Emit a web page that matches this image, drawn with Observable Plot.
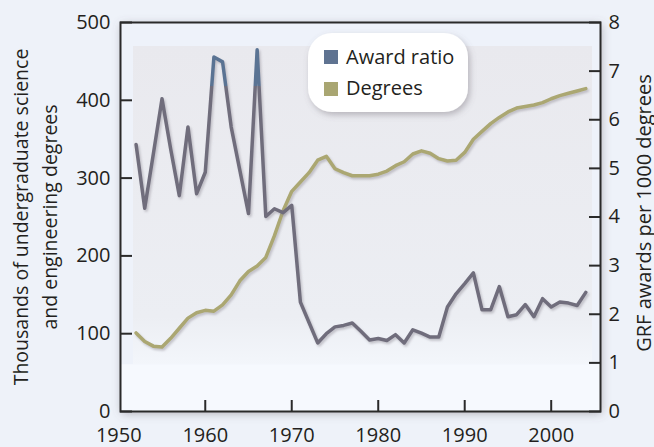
<!DOCTYPE html>
<html><head><meta charset="utf-8">
<script src="https://cdn.jsdelivr.net/npm/d3@7"></script>
<script src="https://cdn.jsdelivr.net/npm/@observablehq/plot@0.6"></script>
<style>
html,body{margin:0;padding:0;background:#eef2f9;}
#chart{width:654px;height:447px;overflow:hidden;}
</style></head><body><div id="chart"></div>
<script>
const years = [1952,1953,1954,1955,1956,1957,1958,1959,1960,1961,1962,1963,1964,1965,1966,1967,1968,1969,1970,
  1971,1972,1973,1974,1975,1976,1977,1978,1979,1980,1981,1982,1983,1984,1985,1986,1987,1988,1989,1990,
  1991,1992,1993,1994,1995,1996,1997,1998,1999,2000,2001,2002,2003,2004];
const degrees = [101,90,84,83,94,107,120,127,130,129,137,150,168,180,187,198,226,258,283,
  295,307,323,328,312,307,303,303,303,305,309,316,321,331,335,332,325,322,323,333,
  350,360,370,378,385,390,392,394,397,402,406,409,412,415];
const awardRatio = [5.49,4.18,5.3,6.43,5.4,4.44,5.85,4.48,4.92,7.29,7.19,5.85,4.96,4.07,7.44,4.01,4.17,4.09,4.24,
  2.25,1.83,1.41,1.6,1.74,1.77,1.82,1.65,1.47,1.50,1.46,1.58,1.41,1.68,1.61,1.53,1.53,2.15,2.42,2.63,
  2.85,2.09,2.09,2.57,1.95,1.99,2.20,1.95,2.32,2.15,2.25,2.23,2.18,2.45];
const seriesNames = ["Award ratio", "Degrees"];
const swatchColors = ["#5f7391", "#a9a672"];
const lineColors = ["#6f6d7c", "#aba772"];
const xTicks = [1950, 1960, 1970, 1980, 1990, 2000];
const leftTicks = [0, 100, 200, 300, 400, 500];
const rightTicks = [0, 1, 2, 3, 4, 5, 6, 7, 8];
const leftTitle = "Thousands of undergraduate science\nand engineering degrees";
const rightTitle = "GRF awards per 1000 degrees";

const K = 500 / 8;
const rows = years.map((y, i) => ({year: y, degrees: degrees[i], ratio: awardRatio[i]}));
const font = "'Open Sans', 'Noto Sans', sans-serif";

const plot = Plot.plot({
  width: 654, height: 447,
  marginLeft: 120, marginRight: 54, marginTop: 22, marginBottom: 36,
  style: {background: "transparent", fontFamily: font, color: "#231f20", overflow: "visible"},
  x: {domain: [1950.2, 2005.7]},
  y: {domain: [0, 500]},
  marks: [
    Plot.frame({fill: "#eef2fa", className: "bgframe"}),
    Plot.line(rows, {x: "year", y: "degrees", stroke: lineColors[1], strokeWidth: 3.5, className: "degline"}),
    Plot.line(rows, {x: "year", y: d => d.ratio * K, stroke: lineColors[0], strokeWidth: 3.5, className: "ratioline"}),
    Plot.frame({stroke: "#2a2a2a", strokeWidth: 2}),
    Plot.axisX({ticks: xTicks.filter(t => t > 1950), tickSize: -11, fill: "none", label: null, stroke: "#2a2a2a", strokeWidth: 2}),
    Plot.axisX({ticks: xTicks, tickFormat: d => String(d), tickSize: 0, tickPadding: 16, fontSize: 20, label: null}),
    Plot.axisY({ticks: leftTicks, tickSize: -12, fill: "none", label: null, anchor: "left", stroke: "#2a2a2a", strokeWidth: 2}),
    Plot.axisY({ticks: leftTicks, tickSize: 0, tickPadding: 10, fontSize: 20, label: null, anchor: "left"}),
    Plot.axisY({ticks: rightTicks.map(t => t * K), tickSize: -12, fill: "none", label: null, anchor: "right", stroke: "#2a2a2a", strokeWidth: 2}),
    Plot.axisY({ticks: rightTicks.map(t => t * K), tickFormat: d => String(Math.round(d / K)), tickSize: 0, tickPadding: 8, fontSize: 20, label: null, anchor: "right"}),
    Plot.text([leftTitle], {frameAnchor: "left", textAnchor: "middle", rotate: -90, dx: -87, fontSize: 19.5, lineHeight: 1.48, fill: "#231f20"}),
    Plot.text([rightTitle], {frameAnchor: "right", textAnchor: "middle", rotate: -90, dx: 44, dy: -4, fontSize: 20, fill: "#231f20"})
  ]
});

const svg = d3.select(plot);
const defs = svg.insert("defs", ":first-child");
defs.append("filter").attr("id", "frameShadow").attr("x", "-10%").attr("y", "-10%").attr("width", "120%").attr("height", "120%")
  .append("feDropShadow").attr("dx", 1).attr("dy", 2).attr("stdDeviation", 5).attr("flood-color", "#6a6470").attr("flood-opacity", 0.45);
defs.append("filter").attr("id", "lineShadow").attr("x", "-5%").attr("y", "-5%").attr("width", "115%").attr("height", "115%")
  .append("feDropShadow").attr("dx", 1.5).attr("dy", 2).attr("stdDeviation", 1.2).attr("flood-color", "#8a8490").attr("flood-opacity", 0.45);
defs.append("filter").attr("id", "boxShadow").attr("x", "-20%").attr("y", "-20%").attr("width", "150%").attr("height", "150%")
  .append("feDropShadow").attr("dx", 2).attr("dy", 3).attr("stdDeviation", 3).attr("flood-color", "#6a6470").attr("flood-opacity", 0.4);
const shade = defs.append("linearGradient").attr("id", "shade").attr("x1", 0).attr("y1", 0).attr("x2", 0).attr("y2", 1);
shade.append("stop").attr("offset", "0%").attr("stop-color", "#e9e9ee");
shade.append("stop").attr("offset", "85%").attr("stop-color", "#eceef3");
shade.append("stop").attr("offset", "100%").attr("stop-color", "#f3f6fb");
const yS = plot.scale("y");
const topPx = yS.apply(500), botPx = yS.apply(0);
const ratioGrad = defs.append("linearGradient").attr("id", "ratioGrad").attr("gradientUnits", "userSpaceOnUse")
  .attr("x1", 0).attr("x2", 0).attr("y1", topPx).attr("y2", botPx);
const cut = (yS.apply(6.7 * K) - topPx) / (botPx - topPx);
ratioGrad.append("stop").attr("offset", cut).attr("stop-color", "#5a7393");
ratioGrad.append("stop").attr("offset", cut).attr("stop-color", lineColors[0]);

let rectSel = svg.select(".bgframe");
if (rectSel.node() && rectSel.node().tagName !== "rect") rectSel = rectSel.select("rect");
rectSel.attr("filter", "url(#frameShadow)");
const fx = +rectSel.attr("x"), fy = +rectSel.attr("y"), fw = +rectSel.attr("width"), fh = +rectSel.attr("height");
const anchorNode = svg.select(".bgframe").node();
const inner = document.createElementNS("http://www.w3.org/2000/svg", "rect");
anchorNode.parentNode.insertBefore(inner, anchorNode.nextSibling);
d3.select(inner).attr("x", fx + 13).attr("y", fy + 24).attr("width", fw - 21).attr("height", fh * 0.88 - 24)
  .attr("fill", "url(#shade)");
const lower = document.createElementNS("http://www.w3.org/2000/svg", "rect");
inner.parentNode.insertBefore(lower, inner.nextSibling);
d3.select(lower).attr("x", fx).attr("y", fy + fh * 0.88).attr("width", fw).attr("height", fh * 0.12).attr("fill", "#f6f9fe");

svg.selectAll(".degline path, path.degline").attr("filter", "url(#lineShadow)");
svg.selectAll(".ratioline path, path.ratioline").attr("filter", "url(#lineShadow)").attr("stroke", "url(#ratioGrad)");

// legend
const lg = svg.append("g").attr("transform", "translate(308,33)").attr("text-anchor", "start");
lg.append("rect").attr("width", 160).attr("height", 79).attr("rx", 24).attr("fill", "#ffffff").attr("filter", "url(#boxShadow)");
seriesNames.forEach((name, i) => {
  lg.append("rect").attr("x", 16).attr("y", 17 + i * 32).attr("width", 14).attr("height", 14).attr("fill", swatchColors[i]);
  lg.append("text").attr("x", 38).attr("y", 31 + i * 31).attr("font-size", 20).attr("font-family", font)
    .attr("text-anchor", "start").attr("fill", "#231f20").text(name);
});

document.getElementById("chart").appendChild(plot);
</script></body></html>
